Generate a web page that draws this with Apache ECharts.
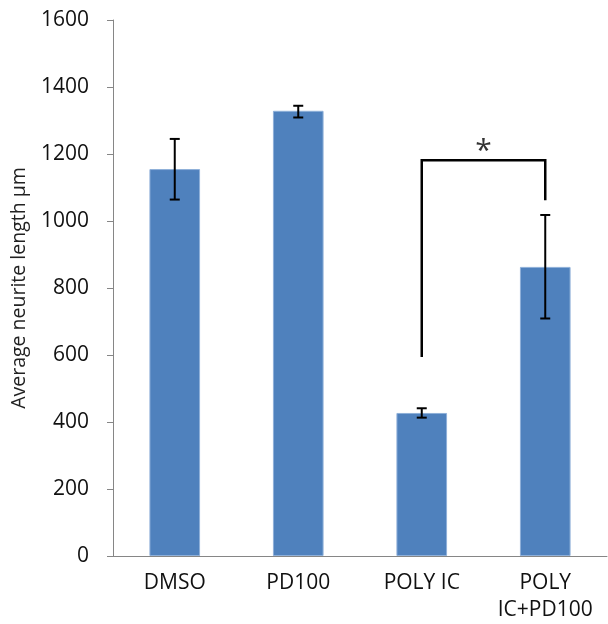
<!DOCTYPE html>
<html>
<head>
<meta charset="utf-8">
<script src="https://cdn.jsdelivr.net/npm/echarts@6/dist/echarts.min.js"></script>
<style>
html,body{margin:0;padding:0;background:#fff;}
#chart{width:608px;height:624px;}
</style>
</head>
<body>
<div id="chart"></div>
<script>
var categories = ['DMSO', 'PD100', 'POLY IC', 'POLY\nIC+PD100'];
var means = [1155, 1329, 427, 863];
var errLow = [1064, 1309, 413, 709];
var errHigh = [1245, 1344, 441, 1018];
var yTicks = [0, 200, 400, 600, 800, 1000, 1200, 1400, 1600];
var bracketFrom = 2, bracketTo = 3;
var bracketTop = 1181, bracketLeftBottom = 594, bracketRightBottom = 1062;
var bracketLabel = '*';
var yTitle = 'Average neurite length µm';

var FONT = 'Open Sans';
var chart = echarts.init(document.getElementById('chart'));

var errData = categories.map(function (c, i) { return [i, errLow[i], errHigh[i]]; });

chart.setOption({
  animation: false,
  grid: { left: 113, right: 1, top: 20, bottom: 67 },
  xAxis: {
    type: 'category',
    data: categories,
    axisLine: { lineStyle: { color: '#868686', width: 1 } },
    axisTick: { show: false },
    axisLabel: { color: '#111', fontFamily: FONT, fontSize: 21, margin: 14, lineHeight: 27 }
  },
  yAxis: {
    type: 'value',
    min: yTicks[0], max: yTicks[yTicks.length - 1], interval: 200,
    name: yTitle,
    nameLocation: 'middle',
    nameGap: 84,
    nameTextStyle: { color: '#222', fontFamily: FONT, fontSize: 19.5 },
    axisLine: { show: true, lineStyle: { color: '#868686', width: 1 } },
    axisTick: { show: true, length: 6, lineStyle: { color: '#868686' } },
    splitLine: { show: false },
    axisLabel: { color: '#111', fontFamily: FONT, fontSize: 21, margin: 24,
                 formatter: function (v) { return String(v); } }
  },
  series: [
    {
      type: 'bar',
      data: means,
      barWidth: '41%',
      itemStyle: { color: '#4F81BD', borderColor: '#8FB0D9', borderWidth: 1 }
    },
    {
      type: 'custom',
      data: errData,
      z: 10,
      renderItem: function (params, api) {
        var x = api.value(0);
        var lo = api.coord([x, api.value(1)]);
        var hi = api.coord([x, api.value(2)]);
        var hw = 5;
        var style = { stroke: '#000', lineWidth: 2 };
        return {
          type: 'group',
          children: [
            { type: 'line', shape: { x1: hi[0], y1: hi[1], x2: lo[0], y2: lo[1] }, style: style },
            { type: 'line', shape: { x1: hi[0] - hw, y1: hi[1], x2: hi[0] + hw, y2: hi[1] }, style: style },
            { type: 'line', shape: { x1: lo[0] - hw, y1: lo[1], x2: lo[0] + hw, y2: lo[1] }, style: style }
          ]
        };
      }
    },
    {
      type: 'custom',
      data: [[bracketFrom, bracketTo, bracketTop, bracketLeftBottom, bracketRightBottom]],
      z: 10,
      renderItem: function (params, api) {
        var a = api.value(0), b = api.value(1);
        var pLB = api.coord([a, api.value(3)]);
        var pLT = api.coord([a, api.value(2)]);
        var pRT = api.coord([b, api.value(2)]);
        var pRB = api.coord([b, api.value(4)]);
        return {
          type: 'group',
          children: [
            { type: 'polyline', shape: { points: [pLB, pLT, pRT, pRB] },
              style: { stroke: '#000', lineWidth: 2.5, fill: null } },
            { type: 'text', x: (pLT[0] + pRT[0]) / 2, y: pLT[1] + 6,
              style: { text: bracketLabel, fill: '#333', font: '30px "' + FONT + '"',
                       align: 'center', verticalAlign: 'bottom' } }
          ]
        };
      }
    }
  ]
});
</script>
</body>
</html>
